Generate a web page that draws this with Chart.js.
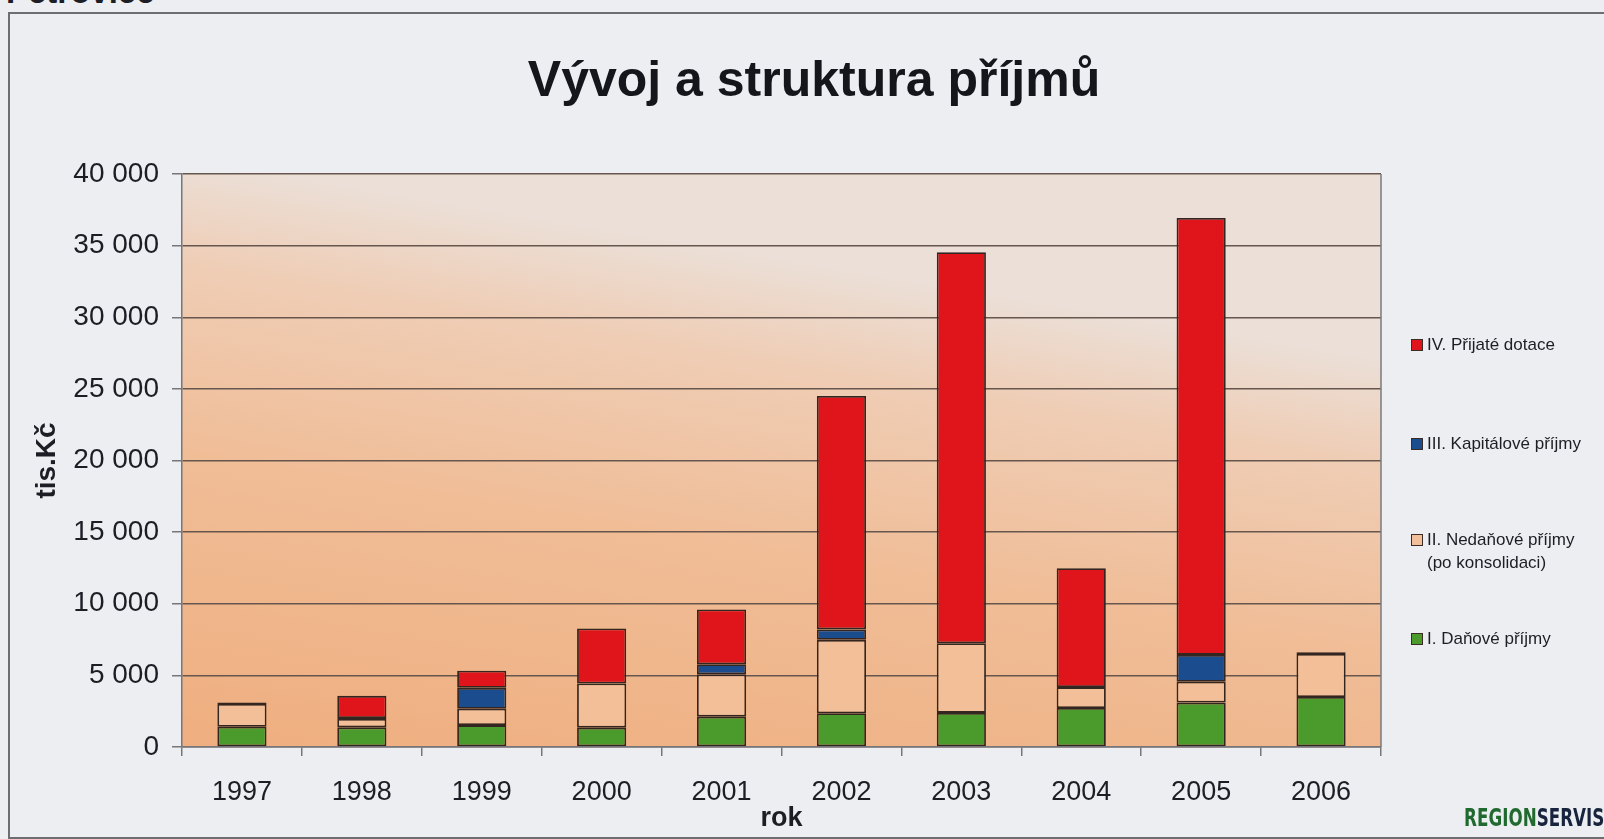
<!DOCTYPE html>
<html lang="cs">
<head>
<meta charset="utf-8">
<title>Vývoj a struktura příjmů</title>
<script src="https://cdn.jsdelivr.net/npm/chart.js@4.4.1/dist/chart.umd.min.js"></script>
<style>
html, body { margin: 0; padding: 0; }
body {
    width: 1604px; height: 839px; position: relative; overflow: hidden;
    background: #eceef1;
    font-family: "Liberation Sans", Arial, sans-serif; color: #1d1d25;
}
#ramec { position: absolute; left: 8px; top: 12px; width: 1640px; height: 823px; border: 2px solid #6d6d72; }
#obec { position: absolute; left: 6px; top: -25px; font-size: 33px; font-weight: bold; line-height: 1; }
#nadpis { position: absolute; left: 0; width: 1628px; top: 54px; text-align: center; font-size: 50px; font-weight: bold; line-height: 1; color: #15151c; }
#graf { position: absolute; left: 0; top: 0; }
#legenda { position: absolute; left: 0; top: 0; }
.polozka { position: absolute; left: 1411px; width: 260px; font-size: 17px; line-height: 23px; white-space: pre; }
.ctverec { position: absolute; left: 0; top: 6px; width: 10px; height: 10px; border: 1px solid #3a2c26; }
.text { margin-left: 16px; }
#logo { position: absolute; right: 0; top: 803px; font-family: "DejaVu Sans", sans-serif; font-weight: bold; font-size: 25px;
        transform: scaleX(0.67); transform-origin: right center; }
#logo .g { color: #20692f; }
#logo .s { color: #18243d; }
</style>
</head>
<body>
<div id="ramec"></div>
<div id="obec">Petrovice</div>
<div id="nadpis">Vývoj a struktura příjmů</div>
<canvas id="graf" width="1604" height="839"></canvas>
<div id="legenda"></div>
<div id="logo"><span class="g">REGION</span><span class="s">SERVIS</span></div>

<script>
"use strict"
// data (tis. Kč)
const roky = ['1997', '1998', '1999', '2000', '2001', '2002', '2003', '2004', '2005', '2006'];
const danove = [1410, 1370, 1530, 1350, 2120, 2360, 2380, 2720, 3100, 3490];       // I.
const nedanove = [1590, 590, 1140, 3080, 2950, 5120, 4860, 1460, 1450, 3000];      // II.
const kapitalove = [0, 60, 1460, 0, 710, 730, 0, 0, 1880, 0];                      // III.
const dotace = [110, 1550, 1200, 3850, 3820, 16300, 27300, 8300, 30500, 120];      // IV.
const yTicks = [0, 5000, 10000, 15000, 20000, 25000, 30000, 35000, 40000];

const nazvy = ['I. Daňové příjmy', 'II. Nedaňové příjmy\n(po konsolidaci)', 'III. Kapitálové příjmy', 'IV. Přijaté dotace'];
const barvy = ['#4a9a2c', '#f2bf98', '#1b4c8e', '#e0151c'];

const pismo = '"Liberation Sans", Arial, sans-serif';
const textBarva = '#1d1d25';

// pozadí plochy grafu (přechod zdola nahoru) + pravý okraj
const pozadi = {
    id: 'pozadi',
    beforeDraw(chart) {
        const {ctx, chartArea: a} = chart;
        const g = ctx.createLinearGradient(a.left, a.bottom, a.left + (a.right - a.left) * 0.08, a.top);
        g.addColorStop(0, '#efae7f');
        g.addColorStop(0.5, '#f0bd97');
        g.addColorStop(0.82, '#efcdb5');
        g.addColorStop(1, '#ebdfd7');
        ctx.save();
        ctx.fillStyle = g;
        ctx.fillRect(a.left, a.top, a.right - a.left, a.bottom - a.top);
        ctx.restore();
    },
    beforeDatasetsDraw(chart) {
        const {ctx, chartArea: a} = chart;
        ctx.save();
        ctx.strokeStyle = '#7a7a7e';
        ctx.lineWidth = 1.5;
        ctx.beginPath();
        ctx.moveTo(a.right, a.top);
        ctx.lineTo(a.right, a.bottom);
        ctx.stroke();
        ctx.restore();
    }
};

const sady = [danove, nedanove, kapitalove, dotace].map(function (d, i) {
    return {
        label: nazvy[i].replace('\n', ' '),
        data: d,
        backgroundColor: barvy[i],
        borderColor: '#33251f',
        borderWidth: 1.8,
        borderSkipped: false,
        barPercentage: 0.41,
        categoryPercentage: 1.0
    };
});

Chart.defaults.font.family = pismo;
Chart.defaults.color = textBarva;

new Chart(document.getElementById('graf'), {
    type: 'bar',
    data: { labels: roky, datasets: sady },
    plugins: [pozadi],
    options: {
        responsive: false,
        animation: false,
        devicePixelRatio: 1,
        layout: { padding: { top: 174, right: 223, left: 0, bottom: 0 } },
        plugins: { legend: { display: false }, tooltip: { enabled: false } },
        scales: {
            x: {
                stacked: true,
                grid: { offset: true, drawOnChartArea: false, tickLength: 9, color: '#77777b', lineWidth: 1.5 },
                border: { color: '#77777b', width: 1.5 },
                ticks: { font: { size: 27 }, color: textBarva, padding: 20, maxRotation: 0 },
                title: { display: true, text: 'rok', font: { size: 27, weight: 'bold' }, color: textBarva, padding: { top: 0, bottom: 4 } },
                afterFit: function (s) { s.height = 92; }
            },
            y: {
                stacked: true,
                min: 0,
                max: 40000,
                afterBuildTicks: function (s) { s.ticks = yTicks.map(v => ({ value: v })); },
                grid: { color: '#66564d', lineWidth: 1.5, tickLength: 10, tickColor: '#77777b' },
                border: { color: '#77777b', width: 1.5 },
                ticks: {
                    font: { size: 28 }, color: textBarva, padding: 13,
                    callback: v => String(v).replace(/\B(?=(\d{3})+(?!\d))/g, ' ')
                },
                title: { display: true, text: 'tis.Kč', font: { size: 28, weight: 'bold' }, color: textBarva, padding: { top: 30, bottom: 0 } },
                afterFit: function (s) { s.width = 182; }
            }
        }
    }
});

// legenda vpravo (poradi shora: IV, III, II, I)
const legendaTop = [333, 432, 528, 627];
const legenda = document.getElementById('legenda');
for (let k = 0; k < 4; k++) {
    const i = 3 - k;
    const el = document.createElement('div');
    el.className = 'polozka';
    el.style.top = legendaTop[k] + 'px';
    el.innerHTML = '<div class="ctverec" style="background:' + barvy[i] + '"></div><div class="text"></div>';
    el.querySelector('.text').textContent = nazvy[i];
    legenda.appendChild(el);
}
</script>
</body>
</html>
